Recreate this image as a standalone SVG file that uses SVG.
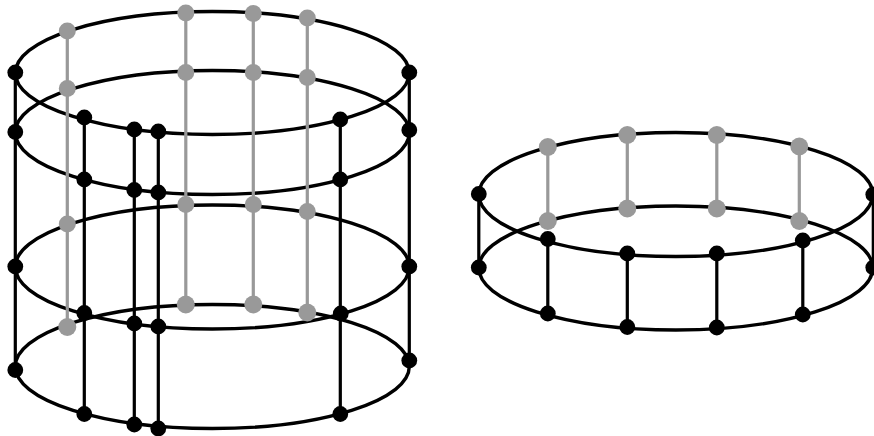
<svg xmlns="http://www.w3.org/2000/svg" width="874" height="436" viewBox="0 0 874 436">
<style>
.e{fill:none;stroke:#000;stroke-width:3.4}
.k{stroke:#000;stroke-width:3.2}
.g{stroke:#999;stroke-width:3.2}
.nk{fill:#000}
.nk circle{r:7.900px}
.ng{fill:#999}
</style>
<rect width="874" height="436" fill="#fff"/>
<g transform="translate(0.300 0.500)">
<g id="connectors">
<ellipse class="e" cx="212" cy="72.500" rx="197" ry="61.500"/>
<ellipse class="e" cx="212" cy="132" rx="197" ry="62"/>
<ellipse class="e" cx="212" cy="266.500" rx="197" ry="62"/>
<ellipse class="e" cx="212" cy="366" rx="197" ry="62"/>
<ellipse class="e" cx="675.500" cy="194" rx="197" ry="62"/>
<ellipse class="e" cx="675.500" cy="267.500" rx="197" ry="62"/>
<path class="g" d="M67 30.500V326.500M185.500 12.500V304M253 13V304M307 17.500V312"/>
<path class="k" d="M15 72V369.500M84 117V413.500M134 129V424M158 131V428M340 119V413.500M409 72V360"/>
<path class="g" d="M547.500 146.500V220.500M627 134.500V208M716.500 134.500V208M799 146V220.500"/>
<path class="k" d="M478.500 193.500V267M873 194V267M547.500 238.500V313M627 253V326.500M716.500 253V327M802.500 240V314"/>
</g>
<g id="n1" class="ng"><circle cx="67" cy="30.500" r="8.500"/></g>
<g id="n2" class="ng"><circle cx="67" cy="88" r="8.500"/></g>
<g id="n3" class="ng"><circle cx="67" cy="223.500" r="8.500"/></g>
<g id="n4" class="ng"><circle cx="67" cy="326.500" r="9"/></g>
<g id="n5" class="ng"><circle cx="185.500" cy="12.500" r="8.500"/></g>
<g id="n6" class="ng"><circle cx="185.500" cy="72" r="8.500"/></g>
<g id="n7" class="ng"><circle cx="185.500" cy="204" r="8.500"/></g>
<g id="n8" class="ng"><circle cx="185.500" cy="304" r="9"/></g>
<g id="n9" class="ng"><circle cx="253" cy="13" r="8.500"/></g>
<g id="n10" class="ng"><circle cx="253" cy="72" r="8.500"/></g>
<g id="n11" class="ng"><circle cx="253" cy="204" r="8.500"/></g>
<g id="n12" class="ng"><circle cx="253" cy="304" r="9"/></g>
<g id="n13" class="ng"><circle cx="307" cy="17.500" r="8.500"/></g>
<g id="n14" class="ng"><circle cx="307" cy="77" r="8.500"/></g>
<g id="n15" class="ng"><circle cx="307" cy="211" r="8.500"/></g>
<g id="n16" class="ng"><circle cx="307" cy="312" r="9"/></g>
<g id="n17" class="nk"><circle cx="15" cy="72" r="7.500"/></g>
<g id="n18" class="nk"><circle cx="15" cy="131.500" r="7.500"/></g>
<g id="n19" class="nk"><circle cx="15" cy="266" r="7.500"/></g>
<g id="n20" class="nk"><circle cx="15" cy="369.500" r="7.500"/></g>
<g id="n21" class="nk"><circle cx="84" cy="117" r="7.500"/></g>
<g id="n22" class="nk"><circle cx="84" cy="179" r="7.500"/></g>
<g id="n23" class="nk"><circle cx="84" cy="312.500" r="7.500"/></g>
<g id="n24" class="nk"><circle cx="84" cy="413.500" r="7.500"/></g>
<g id="n25" class="nk"><circle cx="134" cy="129" r="7.500"/></g>
<g id="n26" class="nk"><circle cx="134" cy="189.500" r="7.500"/></g>
<g id="n27" class="nk"><circle cx="134" cy="323" r="7.500"/></g>
<g id="n28" class="nk"><circle cx="134" cy="424" r="7.500"/></g>
<g id="n29" class="nk"><circle cx="158" cy="131" r="7.500"/></g>
<g id="n30" class="nk"><circle cx="158" cy="192" r="7.500"/></g>
<g id="n31" class="nk"><circle cx="158" cy="326" r="7.500"/></g>
<g id="n32" class="nk"><circle cx="158" cy="428" r="7.500"/></g>
<g id="n33" class="nk"><circle cx="340" cy="119" r="7.500"/></g>
<g id="n34" class="nk"><circle cx="340" cy="179" r="7.500"/></g>
<g id="n35" class="nk"><circle cx="340.500" cy="313" r="7.500"/></g>
<g id="n36" class="nk"><circle cx="340" cy="413.500" r="7.500"/></g>
<g id="n37" class="nk"><circle cx="409" cy="72" r="7.500"/></g>
<g id="n38" class="nk"><circle cx="409" cy="129.500" r="7.500"/></g>
<g id="n39" class="nk"><circle cx="409" cy="266" r="7.500"/></g>
<g id="n40" class="nk"><circle cx="409" cy="360" r="7.500"/></g>
<g id="m1" class="ng"><circle cx="547.500" cy="146.500" r="9"/></g>
<g id="m2" class="ng"><circle cx="547.500" cy="220.500" r="9"/></g>
<g id="m3" class="ng"><circle cx="627" cy="134.500" r="9"/></g>
<g id="m4" class="ng"><circle cx="627" cy="208" r="9"/></g>
<g id="m5" class="ng"><circle cx="716.500" cy="134.500" r="9"/></g>
<g id="m6" class="ng"><circle cx="716.500" cy="208" r="9"/></g>
<g id="m7" class="ng"><circle cx="799" cy="146" r="9"/></g>
<g id="m8" class="ng"><circle cx="799" cy="220.500" r="9"/></g>
<g id="m9" class="nk"><circle cx="478.500" cy="193.500" r="7.500"/></g>
<g id="m10" class="nk"><circle cx="478.500" cy="267" r="7.500"/></g>
<g id="m11" class="nk"><circle cx="873" cy="194" r="7.500"/></g>
<g id="m12" class="nk"><circle cx="873" cy="267" r="7.500"/></g>
<g id="m13" class="nk"><circle cx="547.500" cy="238.500" r="7.500"/></g>
<g id="m14" class="nk"><circle cx="547.500" cy="313" r="7.500"/></g>
<g id="m15" class="nk"><circle cx="627" cy="253" r="7.500"/></g>
<g id="m16" class="nk"><circle cx="627" cy="326.500" r="7.500"/></g>
<g id="m17" class="nk"><circle cx="716.500" cy="253" r="7.500"/></g>
<g id="m18" class="nk"><circle cx="716.500" cy="327" r="7.500"/></g>
<g id="m19" class="nk"><circle cx="802.500" cy="240" r="7.500"/></g>
<g id="m20" class="nk"><circle cx="802.500" cy="314" r="7.500"/></g>
</g>
</svg>
